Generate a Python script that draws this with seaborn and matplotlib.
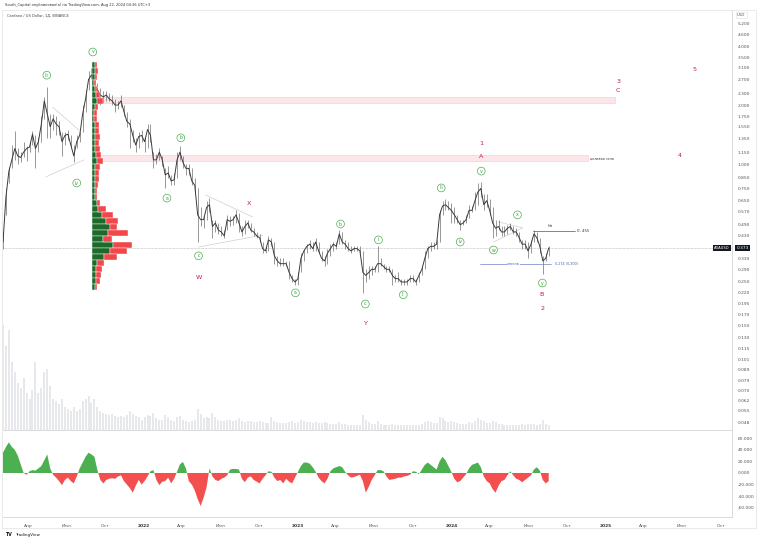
import numpy as np
import pandas as pd
import seaborn as sns
import matplotlib.pyplot as plt
import matplotlib.dates as mdates
import matplotlib.transforms as mtrans
from matplotlib.patches import Rectangle
from matplotlib.ticker import NullLocator, NullFormatter

sns.set_theme(style="white")
plt.rcParams["font.family"] = ["DejaVu Sans"]

# ADA / USD, BINANCE, one per week
close_2021 = [0.40, 0.68, 0.92, 1.05, 1.20, 1.10, 1.08, 1.15, 1.20, 1.22, 1.42, 1.20, 1.30, 1.60, 2.10, 1.80,
              1.55, 1.70, 1.60, 1.55, 1.30, 1.40, 1.42, 1.25, 1.10, 1.30, 1.40, 1.80, 2.15, 2.70, 2.85, 2.55,
              2.40, 2.25, 2.20, 2.25, 2.15, 2.10, 2.00, 2.00, 2.10, 1.85, 1.65, 1.60, 1.40, 1.25, 1.38, 1.40]
high_2021 = [0.45, 0.75, 0.97, 1.25, 1.48, 1.20, 1.15, 1.30, 1.24, 1.30, 1.48, 1.40, 1.38, 1.75, 2.20, 2.47,
             1.80, 1.80, 1.75, 1.65, 1.45, 1.45, 1.50, 1.40, 1.25, 1.40, 1.45, 2.00, 2.40, 2.97, 3.10, 3.05,
             2.60, 2.45, 2.35, 2.35, 2.30, 2.25, 2.15, 2.10, 2.25, 2.00, 1.85, 1.70, 1.50, 1.35, 1.45, 1.50]
low_2021 = [0.37, 0.55, 0.80, 0.95, 1.05, 1.00, 1.02, 1.08, 1.03, 1.15, 1.25, 0.95, 1.15, 1.30, 1.70, 1.35,
            1.35, 1.50, 1.40, 1.40, 1.10, 1.25, 1.33, 1.20, 1.02, 1.20, 1.30, 1.45, 1.85, 2.40, 2.70, 2.00,
            2.20, 2.00, 2.05, 2.10, 2.10, 2.00, 1.85, 1.90, 1.95, 1.75, 1.55, 1.20, 1.30, 1.15, 1.20, 1.30]

close_2022 = [1.30, 1.50, 1.40, 1.05, 1.05, 1.15, 1.05, 0.88, 0.90, 0.82, 0.83, 1.05, 1.15, 1.02, 0.95, 0.95,
              0.82, 0.78, 0.55, 0.52, 0.52, 0.60, 0.62, 0.48, 0.50, 0.46, 0.45, 0.43, 0.52, 0.51, 0.52, 0.55,
              0.50, 0.45, 0.48, 0.50, 0.46, 0.45, 0.43, 0.42, 0.37, 0.36, 0.41, 0.40, 0.34, 0.32, 0.31, 0.31,
              0.31, 0.28, 0.26, 0.25]
high_2022 = [1.38, 1.60, 1.60, 1.15, 1.12, 1.20, 1.10, 0.95, 0.98, 0.88, 0.90, 1.15, 1.24, 1.10, 1.00, 1.00,
             0.95, 0.85, 0.75, 0.60, 0.55, 0.65, 0.67, 0.52, 0.52, 0.50, 0.48, 0.46, 0.55, 0.54, 0.54, 0.58,
             0.56, 0.48, 0.52, 0.52, 0.50, 0.47, 0.45, 0.44, 0.40, 0.38, 0.43, 0.42, 0.40, 0.34, 0.33, 0.33,
             0.32, 0.32, 0.27, 0.26]
low_2022 = [1.15, 1.20, 1.30, 0.95, 1.00, 1.05, 0.98, 0.75, 0.85, 0.78, 0.78, 0.85, 1.05, 0.95, 0.88, 0.88,
            0.78, 0.70, 0.40, 0.48, 0.47, 0.52, 0.57, 0.42, 0.45, 0.44, 0.43, 0.42, 0.46, 0.48, 0.49, 0.50,
            0.45, 0.43, 0.44, 0.47, 0.45, 0.43, 0.42, 0.40, 0.35, 0.35, 0.36, 0.38, 0.31, 0.30, 0.30, 0.30,
            0.30, 0.26, 0.25, 0.24]

close_2023 = [0.26, 0.33, 0.36, 0.38, 0.39, 0.37, 0.40, 0.36, 0.33, 0.32, 0.35, 0.37, 0.39, 0.38, 0.44, 0.40,
              0.39, 0.37, 0.36, 0.37, 0.37, 0.36, 0.28, 0.27, 0.28, 0.29, 0.29, 0.31, 0.31, 0.30, 0.29, 0.29,
              0.27, 0.26, 0.26, 0.25, 0.25, 0.25, 0.26, 0.26, 0.25, 0.27, 0.29, 0.33, 0.37, 0.38, 0.38, 0.39,
              0.55, 0.61, 0.62, 0.60]
high_2023 = [0.28, 0.35, 0.37, 0.39, 0.41, 0.40, 0.42, 0.40, 0.36, 0.34, 0.37, 0.39, 0.40, 0.40, 0.46, 0.45,
             0.41, 0.40, 0.38, 0.38, 0.38, 0.38, 0.36, 0.29, 0.30, 0.30, 0.30, 0.38, 0.33, 0.31, 0.30, 0.30,
             0.29, 0.27, 0.28, 0.26, 0.26, 0.26, 0.27, 0.27, 0.26, 0.28, 0.30, 0.36, 0.38, 0.40, 0.40, 0.41,
             0.58, 0.65, 0.66, 0.65]
low_2023 = [0.24, 0.28, 0.32, 0.35, 0.37, 0.36, 0.36, 0.35, 0.32, 0.30, 0.31, 0.34, 0.36, 0.37, 0.39, 0.39,
            0.37, 0.36, 0.35, 0.36, 0.36, 0.35, 0.22, 0.25, 0.26, 0.27, 0.28, 0.28, 0.30, 0.29, 0.28, 0.28,
            0.24, 0.25, 0.25, 0.24, 0.24, 0.24, 0.25, 0.25, 0.24, 0.25, 0.27, 0.29, 0.33, 0.36, 0.37, 0.37,
            0.40, 0.55, 0.58, 0.58]

close_2024 = [0.58, 0.55, 0.52, 0.49, 0.50, 0.52, 0.58, 0.58, 0.65, 0.72, 0.75, 0.62, 0.65, 0.58, 0.50, 0.47,
              0.48, 0.45, 0.45, 0.47, 0.48, 0.45, 0.45, 0.42, 0.39, 0.39, 0.36, 0.39, 0.44, 0.42, 0.38, 0.32,
              0.33, 0.373]
high_2024 = [0.63, 0.60, 0.55, 0.52, 0.52, 0.55, 0.62, 0.61, 0.72, 0.80, 0.81, 0.70, 0.70, 0.66, 0.60, 0.52,
             0.52, 0.48, 0.48, 0.49, 0.50, 0.48, 0.47, 0.45, 0.41, 0.41, 0.40, 0.41, 0.46, 0.45, 0.42, 0.34,
             0.35, 0.38]
low_2024 = [0.50, 0.50, 0.50, 0.46, 0.49, 0.50, 0.53, 0.57, 0.58, 0.62, 0.68, 0.58, 0.60, 0.55, 0.42, 0.43,
            0.46, 0.43, 0.43, 0.44, 0.46, 0.44, 0.43, 0.40, 0.37, 0.37, 0.33, 0.35, 0.40, 0.40, 0.35, 0.275,
            0.32, 0.34]

# volume (arbitrary units)
vol_2021 = [100, 80, 95, 65, 55, 45, 40, 50, 35, 30, 38, 65, 35, 40, 55, 58, 42, 30, 28, 25, 30, 22, 20, 18,
            22, 18, 20, 28, 30, 32, 26, 30, 22, 18, 16, 15, 14, 15, 13, 12, 13, 12, 14, 18, 15, 13, 12, 10]
vol_2022 = [12, 14, 13, 16, 11, 10, 10, 14, 12, 10, 9, 12, 13, 10, 9, 8, 9, 10, 20, 15, 11, 12, 11, 16, 12, 10,
            9, 9, 10, 10, 9, 10, 11, 9, 8, 9, 9, 8, 8, 9, 8, 7, 7, 12, 9, 8, 7, 7, 7, 8, 9, 7]
vol_2023 = [8, 10, 9, 8, 8, 7, 8, 7, 7, 8, 7, 6, 6, 6, 8, 6, 6, 5, 5, 5, 5, 5, 14, 10, 8, 6, 6, 9, 6, 5, 5, 5,
            6, 5, 5, 5, 5, 5, 5, 5, 5, 5, 6, 8, 9, 8, 7, 7, 12, 11, 9, 8]
vol_2024 = [9, 8, 7, 6, 6, 6, 8, 7, 9, 11, 10, 9, 7, 7, 9, 8, 6, 6, 5, 5, 5, 5, 5, 5, 6, 5, 6, 6, 6, 5, 6, 10,
            6, 5]

# lower oscillator, thousands
osc_2021 = [35, 45, 53, 45, 40, 30, 15, 0, -3, 3, 5, 4, 8, 12, 22, 32, 8, -3, -8, -14, -21, -12, -8, -14,
            -18, -6, 8, 18, 28, 35, 32, 28, 5, -12, -18, -12, -10, -9, -10, -6, -4, -14, -20, -26, -34, -22,
            -12, -20]
osc_2022 = [-14, -6, 3, 5, -12, -21, -15, -14, -8, -18, -10, 2, 15, 19, 8, -14, -20, -30, -45, -57, -43, -25,
            8, -6, -12, -14, -10, -8, -4, 6, 7, 7, 6, -10, -16, -8, -6, -12, -15, -18, -10, -4, 3, 2, -8, -14,
            -12, -18, -10, -15, -18, -8]
osc_2023 = [2, 12, 18, 18, 16, 10, 2, -8, -14, -18, -10, 3, 8, 10, 12, 10, 2, -4, -8, -7, -5, -3, -14, -34,
            -24, -12, -4, 5, 5, 3, -6, -12, -11, -10, -8, -8, -6, -5, -3, 3, 2, -2, 6, 14, 18, 14, 10, 6, 20,
            28, 22, 12]
osc_2024 = [2, -10, -16, -14, -8, -2, 8, 14, 16, 18, 10, -6, -14, -18, -28, -34, -22, -14, -12, -4, 3, -4,
            -10, -12, -16, -12, -8, -4, 6, 10, 4, -12, -18, -14]

# volume profile (rows by price level)
prof_price = [3.20, 2.98, 2.78, 2.59, 2.41, 2.25, 2.10, 1.95, 1.82, 1.70, 1.58, 1.47, 1.37, 1.28, 1.19, 1.11,
              1.04, 0.965, 0.90, 0.84, 0.78, 0.73, 0.68, 0.63, 0.59, 0.55, 0.51, 0.477, 0.445, 0.414, 0.386,
              0.360, 0.335, 0.313, 0.291, 0.271, 0.253, 0.236]
prof_up = [3, 3, 3, 2, 3, 4, 5, 3, 2, 2, 3, 3, 3, 3, 3, 4, 5, 3, 3, 3, 3, 3, 3, 5, 6, 10, 14, 18, 16, 11, 21,
           18, 12, 5, 4, 4, 4, 3]
prof_down = [2, 3, 2, 2, 2, 4, 6, 3, 3, 3, 4, 4, 5, 4, 5, 5, 6, 5, 4, 4, 3, 2, 2, 3, 8, 11, 12, 7, 20, 9, 19,
             17, 13, 7, 6, 5, 4, 2]

price_ticks = [5.2, 4.6, 4.0, 3.5, 3.1, 2.7, 2.3, 2.0, 1.75, 1.55, 1.35, 1.15, 1.0, 0.85, 0.75, 0.65, 0.57,
               0.49, 0.43, 0.33, 0.29, 0.25, 0.22, 0.195, 0.17, 0.15, 0.13, 0.115, 0.101, 0.089, 0.079,
               0.070, 0.062, 0.055, 0.048]
osc_ticks = [60000, 40000, 20000, 0, -20000, -40000, -60000]
osc_tick_labels = ["60.000", "40.000", "20.000", "0.000", "-20.000", "-40.000", "-60.000"]
x_ticks = ["2021-04-01", "2021-07-01", "2021-10-01", "2022-01-01", "2022-04-01", "2022-07-01", "2022-10-01",
           "2023-01-01", "2023-04-01", "2023-07-01", "2023-10-01", "2024-01-01", "2024-04-01", "2024-07-01",
           "2024-10-01", "2025-01-01", "2025-04-01", "2025-07-01", "2025-10-01"]
x_tick_labels = ["Апр", "Июл", "Окт", "2022", "Апр", "Июл", "Окт", "2023", "Апр", "Июл", "Окт", "2024",
                 "Апр", "Июл", "Окт", "2025", "Апр", "Июл", "Окт"]

# wave counts
green_labels = [("iii", "2021-05-16", 2.84), ("iv", "2021-07-26", 0.80), ("v", "2021-09-02", 3.73),
                ("a", "2022-02-25", 0.67), ("b", "2022-03-30", 1.36), ("c", "2022-05-11", 0.34),
                ("a", "2022-12-27", 0.22), ("b", "2023-04-13", 0.494), ("c", "2023-06-11", 0.193),
                ("i", "2023-07-12", 0.41), ("ii", "2023-09-09", 0.215), ("iii", "2023-12-08", 0.755),
                ("iv", "2024-01-22", 0.40), ("v", "2024-03-12", 0.92), ("w", "2024-04-10", 0.364),
                ("x", "2024-06-06", 0.55), ("y", "2024-08-04", 0.247)]
red_labels = [("W", "2022-05-11", 0.262), ("X", "2022-09-07", 0.632), ("Y", "2023-06-11", 0.153),
              ("1", "2024-03-12", 1.28), ("A", "2024-03-12", 1.086), ("B", "2024-08-01", 0.217),
              ("2", "2024-08-04", 0.184), ("3", "2025-01-31", 2.65), ("C", "2025-01-31", 2.36),
              ("4", "2025-06-27", 1.10), ("5", "2025-07-30", 3.05)]
triangle_lines = [("2021-05-30", 1.95, "2021-07-31", 1.49), ("2021-05-14", 0.86, "2021-08-12", 1.05),
                  ("2022-05-28", 0.695, "2022-09-16", 0.537), ("2022-05-11", 0.377, "2022-10-10", 0.434),
                  ("2024-04-10", 0.40, "2024-06-18", 0.472), ("2024-04-22", 0.506, "2024-06-18", 0.472)]

close = close_2021 + close_2022 + close_2023 + close_2024
df = pd.DataFrame({
    "date": pd.date_range("2021-02-01", periods=len(close), freq="7D"),
    "close": close,
    "high": high_2021 + high_2022 + high_2023 + high_2024,
    "low": low_2021 + low_2022 + low_2023 + low_2024,
    "volume": vol_2021 + vol_2022 + vol_2023 + vol_2024,
    "osc": np.array(osc_2021 + osc_2022 + osc_2023 + osc_2024) * 1000,
})


def d(s):
    return mdates.date2num(pd.Timestamp(s))


W, H = 758, 541
fig = plt.figure(figsize=(W / 100, H / 100), dpi=100)
fig.patch.set_facecolor("white")


def box(x0, y0, x1, y1):
    return [x0 / W, 1 - y1 / H, (x1 - x0) / W, (y1 - y0) / H]


ax = fig.add_axes(box(3, 10, 732, 430))
axo = fig.add_axes(box(3, 431, 732, 517), sharex=ax)

# volume underneath
axv = ax.twinx()
axv.vlines(df["date"], 0, df["volume"], color="#dfe2e7", lw=1.1)
axv.set_ylim(0, 400)
axv.axis("off")

# price
ax.vlines(df["date"], df["low"], df["high"], color="#6e6e6e", lw=0.5)
sns.lineplot(data=df, x="date", y="close", ax=ax, color="#3a3a3a", lw=0.7)
ax.set_yscale("log")
ax.set_ylim(0.0439, 6.11)
ax.set_xlim(pd.Timestamp("2021-02-01"), pd.Timestamp("2025-10-28"))
ax.set_xlabel("")
ax.set_ylabel("")

# volume profile
axp = ax.twiny()
centers = np.array(prof_price)
edges = np.sqrt(centers[:-1] * centers[1:])
tops = np.r_[centers[0] ** 2 / edges[0], edges]
bots = np.r_[edges, centers[-1] ** 2 / edges[-1]]
axp.barh(bots, prof_up, height=tops - bots, align="edge", color="#1d6a2b", edgecolor="white", lw=0.3)
axp.barh(bots, prof_down, left=prof_up, height=tops - bots, align="edge", color="#f0474b",
         edgecolor="white", lw=0.3)
axp.set_xlim(-89, 640)
axp.axis("off")

axv.set_zorder(0)
ax.set_zorder(1)
axp.set_zorder(2)
ax.patch.set_visible(False)

# axes styling
ax.yaxis.tick_right()
ax.set_yticks(price_ticks)
ax.set_yticklabels([f"{v:.3f}" for v in price_ticks])
ax.yaxis.set_minor_locator(NullLocator())
ax.yaxis.set_minor_formatter(NullFormatter())
ax.tick_params(axis="y", length=0, pad=4, labelsize=3.2, labelcolor="#555555")
ax.tick_params(axis="x", length=0, labelbottom=False)
for s in ["left", "top"]:
    ax.spines[s].set_visible(False)
for s in ["right", "bottom"]:
    ax.spines[s].set_color("#d4d4d4")
    ax.spines[s].set_linewidth(0.6)

# pink target zones
ax.add_patch(Rectangle((d("2021-09-08"), 2.05), d("2025-01-24") - d("2021-09-08"), 0.15,
                       fc="#fde6ea", ec="#f8c6d1", lw=0.4, zorder=0.5))
ax.add_patch(Rectangle((d("2021-09-14"), 1.04), d("2024-11-20") - d("2021-09-14"), 0.07,
                       fc="#fde6ea", ec="#f8c6d1", lw=0.4, zorder=0.5))
ax.text(d("2024-11-24"), 1.065, "целевая зона", fontsize=2.4, color="#333333", va="center", ha="left")

# last price line and labels
ax.axhline(0.373, color="#b0b0b0", lw=0.5, ls=(0, (1, 1)), zorder=0.6)
tr = mtrans.blended_transform_factory(ax.transAxes, ax.transData)
ax.text(1.006, 0.373, "0.373", transform=tr, fontsize=3.2, color="white", ha="left", va="center",
        bbox=dict(boxstyle="square,pad=0.3", fc="#131722", ec="none"), clip_on=False)
ax.text(0.997, 0.373, "ADAUSD", transform=tr, fontsize=2.6, color="white", ha="right", va="center",
        bbox=dict(boxstyle="square,pad=0.3", fc="#131722", ec="none"))

# levels near the end
ax.plot([d("2024-07-13"), d("2024-10-21")], [0.455, 0.455], color="#555555", lw=0.5)
ax.text(d("2024-10-26"), 0.455, "0, 455", fontsize=2.8, color="#333333", va="center")
ax.text(d("2024-08-22"), 0.472, "Нм", fontsize=2.4, color="#333333", va="bottom", ha="center")
ax.plot([d("2024-03-08"), d("2024-08-25")], [0.31, 0.31], color="#6a82c8", lw=0.5)
ax.text(d("2024-05-27"), 0.31, "отмена", fontsize=2.4, color="#4a64b4", va="center", ha="center",
        bbox=dict(boxstyle="square,pad=0.1", fc="white", ec="none"))
ax.text(d("2024-09-04"), 0.31, "0,274 (0,300)", fontsize=2.4, color="#4a64b4", va="center", ha="left")

for x0, y0, x1, y1 in triangle_lines:
    ax.plot([d(x0), d(x1)], [y0, y1], color="#cfcfcf", lw=0.5, zorder=0.7)

for lab, dt, p in green_labels:
    ax.text(d(dt), p, lab, fontsize=3.3, color="#3f9c45", ha="center", va="center", zorder=5,
            bbox=dict(boxstyle="circle,pad=0.3", fc="white", ec="#4caf50", lw=0.5))
for lab, dt, p in red_labels:
    ax.text(d(dt), p, lab, fontsize=4.6, color="#c2185b", ha="center", va="center", zorder=5)

ax.text(0.0055, 0.986, "Cardano / US Dollar, 1Д, BINANCE", transform=ax.transAxes, fontsize=2.6,
        color="#444444", va="center", ha="left")

# oscillator panel
axo.fill_between(df["date"], df["osc"], 0, where=df["osc"] >= 0, interpolate=True, color="#4caf50", lw=0)
axo.fill_between(df["date"], df["osc"], 0, where=df["osc"] <= 0, interpolate=True, color="#f44f4f", lw=0)
axo.set_ylim(-76000, 72500)
axo.yaxis.tick_right()
axo.set_yticks(osc_ticks)
axo.set_yticklabels(osc_tick_labels)
axo.set_xticks([d(t) for t in x_ticks])
axo.set_xticklabels(x_tick_labels)
axo.tick_params(axis="y", length=0, pad=4, labelsize=3.2, labelcolor="#555555")
axo.tick_params(axis="x", length=0, pad=5, labelsize=3.2, labelcolor="#555555")
for t in axo.get_xticklabels():
    if t.get_text().isdigit():
        t.set_fontweight("bold")
        t.set_color("#333333")
for s in ["left", "top"]:
    axo.spines[s].set_visible(False)
for s in ["right", "bottom"]:
    axo.spines[s].set_color("#d4d4d4")
    axo.spines[s].set_linewidth(0.6)
axo.set_xlabel("")
axo.set_ylabel("")

# frame, header, footer
fig.patches.append(Rectangle((2 / W, 1 - 528 / H), 754 / W, 518 / H, transform=fig.transFigure,
                             fill=False, ec="#e2e2e2", lw=0.5))
fig.text(5 / W, 1 - 5 / H, "South_Capital опубликовал(а) на TradingView.com, Aug 22, 2024 04:36 UTC+3",
         fontsize=2.6, color="#333333", va="center", ha="left")
fig.text(737 / W, 1 - 15 / H, "USD", fontsize=2.8, color="#555555", va="center", ha="left",
         bbox=dict(boxstyle="square,pad=0.3", fc="white", ec="#dddddd", lw=0.4))
fig.text(5 / W, 1 - 535 / H, "TV", fontsize=3.4, fontweight="bold", color="#131722", va="center")
fig.text(15 / W, 1 - 535 / H, "TradingView", fontsize=3.0, color="#131722", va="center")

fig.savefig("out.png", dpi=100, facecolor="white")
